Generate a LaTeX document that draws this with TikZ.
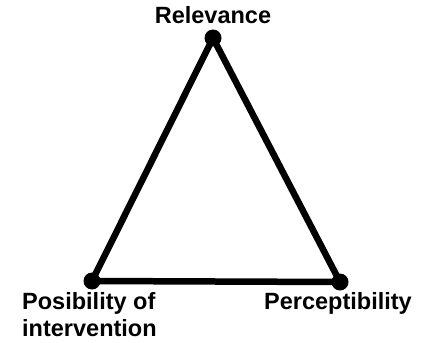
\documentclass[tikz,border=0pt]{standalone}
\usepackage{fontspec}
\setmainfont{Liberation Sans}
\begin{document}
\begin{tikzpicture}[x=1pt,y=-1pt,
  lbl/.style={font=\bfseries\fontsize{23.5}{27}\selectfont, inner sep=0pt},
  edge/.style={line width=6.5pt, line join=round, line cap=round},
  dot/.style={circle, fill=black, inner sep=0pt, minimum size=17pt}]
\useasboundingbox (0,0) rectangle (430,342);
\coordinate (T) at (213,38);
\coordinate (L) at (92,281);
\coordinate (R) at (340,282);
\draw[edge] (T) -- (L) -- (R) -- cycle;
\node[dot] (dt) at (T) {};
\node[dot] (dl) at (L) {};
\node[dot] (dr) at (R) {};
\node[lbl, anchor=base] (rel) at (213,24) {Relevance};
\node[lbl, anchor=base west] (per) at (264,309) {Perceptibility};
\node[lbl, anchor=base west] (pos1) at (22,309) {Posibility of};
\node[lbl, anchor=base west] (pos2) at (22,336) {intervention};
\end{tikzpicture}
\end{document}
